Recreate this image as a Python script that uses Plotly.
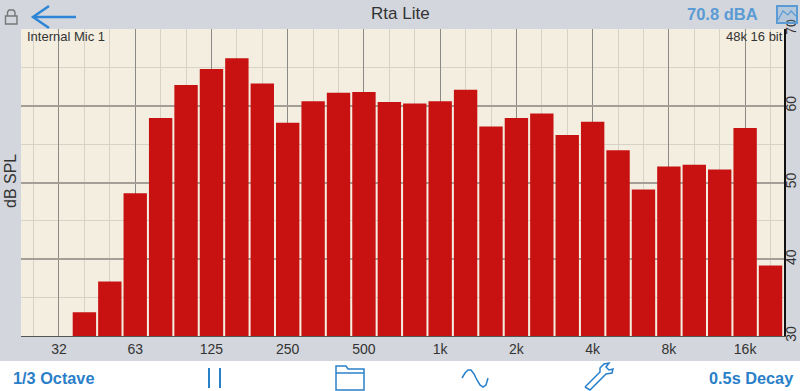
import plotly.graph_objects as go

W, H = 800, 391
FONT = "Liberation Sans"
BLUE = "#2a80c8"

band_labels = ["40", "50", "63", "80", "100", "125", "160", "200", "250", "315", "400", "500", "630", "800",
               "1k", "1.25k", "1.6k", "2k", "2.5k", "3.15k", "4k", "5k", "6.3k", "8k", "10k", "12.5k", "16k", "20k"]
band_index = list(range(1, 29))
levels_db = [33.1, 37.1, 48.6, 58.4, 62.7, 64.8, 66.2, 62.9, 57.8, 60.6, 61.7, 61.8, 60.5, 60.3,
             60.6, 62.1, 57.3, 58.4, 59.0, 56.2, 57.9, 54.2, 49.1, 52.1, 52.3, 51.7, 57.1, 39.2]
octave_ticks = [0, 3, 6, 9, 12, 15, 18, 21, 24, 27]
octave_labels = ["32", "63", "125", "250", "500", "1k", "2k", "4k", "8k", "16k"]
db_ticks = [30, 40, 50, 60, 70]


def px(x):
    return x / W


def py(y):
    return 1 - y / H


def path(points, close=False):
    d = "M" + " L".join(f"{px(x):.5f},{py(y):.5f}" for x, y in points)
    return d + (" Z" if close else "")


def line_shape(points, color=BLUE, width=1.5, close=False):
    return dict(type="path", xref="paper", yref="paper", path=path(points, close),
                line=dict(color=color, width=width))


def text(x, y, s, size, color="#333333", anchor="center", bold=False, angle=0):
    return dict(x=px(x), y=py(y), xref="paper", yref="paper", text=f"<b>{s}</b>" if bold else s,
                showarrow=False, xanchor=anchor, yanchor="middle", textangle=angle,
                font=dict(family=FONT, size=size, color=color))


fig = go.Figure(go.Bar(x=band_index, y=levels_db, marker=dict(color="#c81212", line=dict(width=0)),
                       customdata=band_labels, width=0.92))

shapes = [
    dict(type="rect", xref="paper", yref="paper", x0=0, x1=1, y0=0, y1=py(361),
         fillcolor="white", line=dict(width=0), layer="below"),
    # lock
    dict(type="rect", xref="paper", yref="paper", x0=px(5.5), x1=px(17), y0=py(24), y1=py(16),
         line=dict(color="#777777", width=1.4)),
    line_shape([(7.5, 16), (7.5, 12), (9, 10), (13.5, 10), (15, 12), (15, 16)], "#777777", 1.4),
    # back arrow
    line_shape([(33, 17), (76, 17)], "#2f86d6", 2.5),
    line_shape([(49, 6), (33, 17), (49, 28)], "#2f86d6", 2.5),
    # picture icon
    dict(type="rect", xref="paper", yref="paper", x0=px(777), x1=px(797), y0=py(23), y1=py(6),
         fillcolor="rgba(91,155,213,0.25)", line=dict(color="#5b9bd5", width=2)),
    line_shape([(778, 20), (783, 11), (788, 15), (791, 11), (796, 16)], "#5b9bd5", 1.2),
    # pause
    line_shape([(209, 368), (209, 388)], BLUE, 2),
    line_shape([(220, 368), (220, 388)], BLUE, 2),
    # folder
    line_shape([(336, 390), (336, 366), (346, 366), (348, 369), (364, 369), (364, 390)], BLUE, 1.5, True),
    line_shape([(336, 373), (364, 373)], BLUE, 1.5),
    # sine
    line_shape([(462, 378), (465, 373), (468, 370), (471, 370), (474, 374), (477, 380),
                (480, 385), (483, 387), (486, 385), (488, 378)], BLUE, 1.5),
    # wrench
    line_shape([(585, 387), (590, 390), (606, 374), (612, 373), (613, 369), (609, 370),
                (606, 367), (609, 363), (604, 364), (600, 368), (600, 372), (585, 387)], BLUE, 1.5),
]

annotations = [
    text(400, 14, "Rta Lite", 17),
    text(722.5, 14, "70.8 dBA", 16.5, "#5b9bd5", bold=True),
    text(25, 36, "Internal Mic 1", 13, anchor="left"),
    text(785, 36, "48k 16 bit", 13, anchor="right"),
    text(10, 181, "dB SPL", 16, angle=-90),
    text(11, 378, "1/3 Octave", 16.3, BLUE, anchor="left", bold=True),
    text(795, 378, "0.5s Decay", 16.3, BLUE, anchor="right", bold=True),
]

fig.update_layout(
    width=W, height=H, autosize=False,
    margin=dict(l=0, r=0, t=0, b=0, autoexpand=False),
    paper_bgcolor="#d3d6dc", plot_bgcolor="#f3eee0",
    showlegend=False, shapes=shapes, annotations=annotations,
    font=dict(family=FONT, color="#333333"),
    xaxis=dict(domain=[px(21), px(784)], range=[-1.495, 28.53], tickmode="array", automargin=False,
               tickvals=octave_ticks, ticktext=octave_labels, ticks="", tickfont=dict(size=14),
               showgrid=True, gridcolor="#8c8a85", gridwidth=1, zeroline=False,
               showline=True, linecolor="#555555", linewidth=1,
               minor=dict(tickmode="array", tickvals=list(range(-1, 29)), showgrid=True,
                          gridcolor="#d6d2c8", gridwidth=1.2, ticks="")),
    yaxis=dict(domain=[py(336), py(29)], range=[30, 70], side="right", tickmode="array", automargin=False,
               tickvals=db_ticks, ticks="", tickangle=-90, tickfont=dict(size=14), ticklabelstandoff=-7,
               showgrid=True, gridcolor="#a39f96", gridwidth=1.5, zeroline=False,
               showline=True, linecolor="#111111", linewidth=2,
               minor=dict(tickmode="array", tickvals=[35, 45, 55, 65], showgrid=True,
                          gridcolor="#d6d2c8", gridwidth=1.2, ticks="")),
)

fig.write_html("out.html", config=dict(displayModeBar=False),
               post_script="document.body.style.margin='0';document.documentElement.style.overflow='hidden';")
